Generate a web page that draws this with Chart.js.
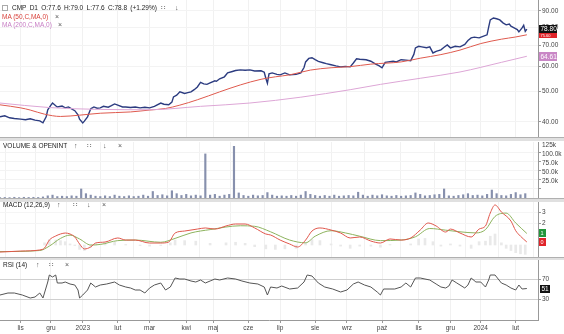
<!DOCTYPE html>
<html><head><meta charset="utf-8">
<script src="https://cdn.jsdelivr.net/npm/chart.js@4.4.1/dist/chart.umd.min.js"></script>
<style>
html,body{margin:0;padding:0;background:#fff;}
body{width:564px;height:334px;position:relative;overflow:hidden;font-family:"Liberation Sans",Arial,sans-serif;}
canvas{position:absolute;left:0;}
.sep{position:absolute;left:0;width:564px;height:3px;background:#e0e0e0;border-top:1px solid #b0b0b0;}
.t{position:absolute;font-size:6.5px;line-height:8px;white-space:nowrap;color:#222;}
.ic{position:absolute;font-size:7px;line-height:8px;white-space:nowrap;color:#555;}
</style></head><body>
<canvas id="cMain" width="564" height="137" style="top:0;width:564px;height:137px"></canvas>
<div class="sep" style="top:137px"></div>
<canvas id="cVol" width="564" height="56" style="top:142px;width:564px;height:56px"></canvas>
<div class="sep" style="top:198px"></div>
<canvas id="cMacd" width="564" height="55" style="top:202px;width:564px;height:55px"></canvas>
<div class="sep" style="top:257px;height:2px"></div>
<canvas id="cRsi" width="564" height="74" style="top:260px;width:564px;height:74px"></canvas>

<div style="position:absolute;left:2px;top:5px;width:4px;height:4px;border:1px solid #aaa;"></div>
<div class="t" style="left:12px;top:4px;word-spacing:1.5px;">CMP D1 O:77.6 H:79.0 L:77.6 C:78.8 (+1.29%)</div>
<div class="ic" style="left:161px;top:4px;">∷</div>
<div class="ic" style="left:175px;top:4px;">↓</div>
<div class="t" style="left:2px;top:13px;color:#d9423c;">MA (50,C,MA,0)</div>
<div class="ic" style="left:55px;top:13px;">×</div>
<div class="t" style="left:2px;top:21px;color:#c77dc4;">MA (200,C,MA,0)</div>
<div class="ic" style="left:58px;top:21px;">×</div>

<div class="t" style="left:3px;top:142px;">VOLUME &amp; OPENINT</div>
<div class="ic" style="left:74px;top:142px;">↑</div>
<div class="ic" style="left:87px;top:142px;">∷</div>
<div class="ic" style="left:103px;top:142px;">↓</div>
<div class="ic" style="left:118px;top:142px;">×</div>

<div class="t" style="left:3px;top:201px;">MACD (12,26,9)</div>
<div class="ic" style="left:57px;top:201px;">↑</div>
<div class="ic" style="left:73px;top:201px;">∷</div>
<div class="ic" style="left:87px;top:201px;">↓</div>
<div class="ic" style="left:102px;top:201px;">×</div>

<div class="t" style="left:3px;top:261px;">RSI (14)</div>
<div class="ic" style="left:36px;top:261px;">↑</div>
<div class="ic" style="left:49px;top:261px;">∷</div>
<div class="ic" style="left:65px;top:261px;">×</div>

<script>
// ---------- DATA (x = trading-day index) ----------
const dayMin = 0, dayMax = 338;
const monthTickDays   = [13, 32, 52, 74, 94, 117, 134, 156, 176, 198, 218, 240, 263, 283, 302, 324];
const monthTickLabels = ['lis','gru','2023','lut','mar','kwi','maj','cze','lip','sie','wrz','paź','lis','gru','2024','lut'];

const priceTicks = [40, 50, 60, 70, 80, 90];
const volumeTicks = [25000, 50000, 75000, 100000, 125000];
const volumeTickLabels = ['25.0k', '50.0k', '75.0k', '100.0k', '125k'];
const macdTicks = [2, 3];
const rsiTicks = [30, 70];

const priceClose = [[0,41.5],[3,41.8],[6,41.2],[9,41.0],[13,40.8],[16,40.6],[19,40.9],[22,40.5],[25,40.3],[27,39.7],
 [29,41.5],[30,43.7],[32,45.2],[33,45.9],[35,45.0],[36,44.6],[39,44.9],[41,44.3],[43,44.6],[45,44.0],
 [47,43.4],[49,42.1],[50,40.8],[52,39.7],[53,40.2],[55,41.5],[57,44.0],[59,44.6],[61,44.2],[63,44.3],
 [65,44.8],[68,44.5],[70,45.0],[72,45.6],[74,45.2],[77,44.6],[79,44.6],[82,44.4],[85,44.6],[88,44.3],
 [91,44.5],[94,44.3],[97,44.8],[101,45.9],[103,45.5],[106,45.3],[108,46.2],[109,48.0],[111,48.6],[113,49.8],
 [116,49.2],[118,49.5],[120,49.8],[122,50.6],[124,51.6],[126,53.4],[128,52.8],[130,52.6],[132,53.2],[135,54.0],
 [136,53.8],[138,54.8],[141,55.6],[143,57.2],[146,57.8],[148,58.2],[151,58.5],[154,58.3],[157,58.5],[160,58.0],
 [164,58.1],[166,57.5],[167,55.0],[168,53.0],[169,56.8],[171,57.2],[174,56.6],[176,56.4],[179,57.2],[182,56.4],
 [186,56.6],[189,57.2],[191,59.5],[192,62.0],[194,63.6],[196,63.9],[198,63.0],[200,62.2],[203,61.6],[205,61.2],
 [208,60.7],[211,60.2],[214,59.8],[217,60.0],[220,59.8],[222,61.5],[224,63.4],[226,63.2],[230,63.0],[233,62.3],
 [236,61.0],[238,60.3],[240,59.4],[242,61.8],[244,62.0],[247,62.3],[249,62.0],[252,63.0],[255,62.8],[258,62.5],
 [260,65.5],[261,68.7],[263,69.5],[265,69.2],[268,68.8],[270,69.2],[272,66.2],[274,67.0],[277,67.7],[279,69.0],
 [281,70.2],[283,68.7],[286,69.5],[289,69.2],[292,70.5],[294,72.5],[296,73.9],[298,74.3],[301,73.9],[303,74.6],
 [306,75.6],[307,80.0],[308,84.3],[310,85.5],[312,85.0],[314,84.3],[316,82.5],[318,81.3],[320,81.8],[321,80.5],
 [323,79.5],[325,78.5],[326,77.2],[328,79.5],[329,81.0],[330,77.5],[331,78.8]];

const ma50 = [[0,45.3],[13,44.3],[19,43.6],[28,42.3],[38,41.6],[50,42.0],[63,42.6],[82,43.0],[94,43.6],[104,44.1],
 [113,45.2],[124,47.0],[138,49.8],[151,52.4],[164,54.6],[173,55.6],[182,56.4],[195,58.4],[208,59.4],[220,59.9],
 [233,61.0],[252,62.0],[264,63.7],[277,65.4],[289,67.6],[302,70.9],[315,73.2],[324,74.4],[331,75.6]];

const ma200 = [[0,45.9],[31,44.4],[63,43.8],[94,43.7],[126,44.8],[157,45.9],[189,47.9],[220,50.6],[239,52.6],
 [264,55.0],[289,57.6],[315,61.8],[331,64.61]];

const volumeStartDay = 0, volumeStepDays = 3;
const volumeK = [1,1.5,1,2,1,2,1.5,2,1.5,3, 6,8,4,5,4,6,5,25,12,8, 5,4,6,4,8,5,4,6,4,5,
 8,5,18,7,9,6,20,12,7,10, 6,8,6,122,8,10,5,8,10,143, 14,7,5,8,6,7,15,8,5,6,
 5,7,5,8,18,10,7,5,7,5, 8,5,6,7,6,16,8,5,8,6, 9,6,5,7,5,6,7,14,10,6,
 7,9,10,25,6,5,7,9,12,7, 8,6,10,22,12,7,6,10,15,9, 12];

const macdLine = [[0,-0.64],[13,-0.55],[25,-0.45],[28,-0.27],[31,0.45],[35,0.82],[38,1.0],[41,1.09],[44,1.0],[47,0.73],
 [50,0.09],[53,-0.36],[57,-0.18],[60,0.18],[66,0.27],[74,0.64],[79,0.45],[85,0.45],[94,0.18],[101,0.18],
 [106,0.27],[110,1.09],[116,1.27],[124,1.45],[129,1.55],[135,1.45],[142,1.73],[148,1.91],[154,1.91],[160,1.55],
 [167,1.0],[170,0.91],[176,0.45],[182,0.09],[187,-0.18],[192,0.45],[196,1.27],[201,1.55],[208,1.36],[214,1.09],
 [220,0.64],[226,0.73],[233,0.36],[239,0.18],[245,0.55],[252,0.45],[258,0.64],[264,1.36],[269,2.0],[274,1.73],
 [280,1.18],[283,1.45],[289,1.09],[296,0.73],[301,1.45],[305,1.73],[308,2.91],[311,3.64],[315,3.0],[321,2.18],
 [324,1.3],[327,0.8],[331,0.27]];

const signalLine = [[0,-0.6],[25,-0.5],[31,-0.1],[38,0.6],[44,0.9],[50,0.55],[57,0.0],[63,0.05],[74,0.4],[85,0.45],
 [101,0.25],[110,0.6],[120,1.1],[132,1.4],[151,1.75],[160,1.7],[170,1.2],[182,0.45],[192,0.2],[198,0.8],
 [208,1.3],[217,1.1],[226,0.8],[239,0.4],[252,0.45],[261,0.75],[270,1.5],[280,1.35],[289,1.2],[299,1.1],
 [305,1.4],[311,2.6],[318,2.9],[324,2.0],[331,1.05]];

const macdHist = [[28,0.2],[31,0.5],[35,0.45],[38,0.4],[41,0.3],[44,0.1],[47,-0.05],[50,-0.4],[53,-0.5],[57,-0.2],
 [60,0.1],[66,0.2],[72,0.25],[79,0.05],[88,-0.05],[94,-0.1],[101,-0.05],[107,0.2],[110,0.45],[116,0.4],
 [123,0.35],[132,0.15],[142,0.2],[148,0.25],[154,0.15],[160,-0.15],[167,-0.35],[173,-0.4],[179,-0.35],[186,-0.3],
 [192,0.25],[196,0.5],[201,0.4],[208,0.1],[214,-0.1],[220,-0.3],[226,-0.1],[233,-0.1],[239,-0.2],[245,0.05],
 [258,0.1],[263,0.55],[267,0.6],[272,0.3],[277,-0.1],[283,0.1],[289,-0.1],[296,-0.3],[301,0.3],[305,0.35],
 [308,0.8],[311,1.0],[315,0.2],[318,-0.3],[321,-0.5],[324,-0.7],[327,-0.8],[330,-0.85]];

const rsi14 = [[0,38],[5,42],[9,42],[14,38],[19,32],[22,34],[25,42],[27,32],[30,64],[31,78],
 [33,74],[35,78],[36,62],[39,62],[41,64],[44,60],[47,58],[49,48],[50,32],[52,38],
 [55,48],[57,62],[60,54],[63,58],[67,60],[72,64],[75,58],[79,54],[82,52],[85,48],
 [88,48],[91,42],[94,52],[97,58],[101,62],[104,48],[107,54],[110,72],[113,70],[116,70],
 [120,66],[123,64],[126,68],[129,62],[132,66],[135,70],[138,68],[143,72],[148,70],[152,66],
 [157,62],[162,60],[166,54],[168,38],[170,54],[174,52],[177,56],[182,50],[187,52],[191,64],
 [193,78],[196,76],[200,62],[204,54],[209,50],[214,44],[218,48],[222,60],[225,64],[229,58],
 [233,54],[237,44],[239,38],[241,50],[245,50],[248,50],[252,54],[255,62],[258,54],[261,72],
 [264,72],[267,70],[270,68],[274,60],[277,54],[280,52],[282,56],[284,68],[287,62],[289,58],
 [292,52],[294,58],[296,72],[299,64],[302,64],[305,54],[307,68],[308,78],[311,78],[315,62],
 [318,58],[321,52],[324,48],[326,58],[328,50],[331,51]];

// ---------- helpers ----------
const FONT = '"Liberation Sans", Arial, sans-serif';
const pts = arr => arr.map(p => ({x: p[0], y: p[1]}));
const last = arr => arr[arr.length - 1][1];

function xAxis(showLabels) {
  return {
    type: 'linear', min: dayMin, max: dayMax, bounds: 'data', offset: false,
    afterBuildTicks: s => { s.ticks = monthTickDays.map(v => ({value: v})); },
    ticks: { display: showLabels, autoSkip: false, maxRotation: 0, padding: 1,
      font: {size: 6.5, family: FONT}, color: '#444',
      callback: v => { const i = monthTickDays.indexOf(v); return i >= 0 ? monthTickLabels[i] : ''; } },
    grid: { color: '#f1f1f1', drawTicks: showLabels, tickLength: 3, tickColor: '#999' },
    border: { display: showLabels, color: '#999' },
    afterFit: s => { s.height = showLabels ? 14 : 0; s.paddingLeft = 0; s.paddingRight = 0; }
  };
}
function yAxis(type, min, max, tickVals, fmt, gridColor, labelOffset) {
  return {
    type, position: 'right', min, max, bounds: 'data',
    afterBuildTicks: s => { s.ticks = tickVals.map(v => ({value: v})); },
    ticks: { autoSkip: false, padding: 1, font: {size: 6.5, family: FONT}, color: '#444',
      labelOffset: labelOffset || 0, callback: fmt },
    grid: { color: gridColor, tickLength: 3, tickColor: '#999' },
    border: { display: true, color: '#999' },
    afterFit: s => { s.width = 26; s.paddingTop = 0; s.paddingBottom = 0; }
  };
}
const common = {
  responsive: false, animation: false, events: [],
  layout: { padding: 0 },
  plugins: { legend: {display: false}, tooltip: {enabled: false} },
  elements: { point: {radius: 0} }
};
function box(ctx, x, yc, w, h, bg, txt, fg, fs) {
  ctx.save();
  ctx.fillStyle = bg;
  ctx.fillRect(x, Math.round(yc - h / 2), w, h);
  ctx.fillStyle = fg;
  ctx.font = fs + 'px ' + FONT;
  ctx.textAlign = 'left';
  ctx.textBaseline = 'middle';
  ctx.beginPath(); ctx.rect(x, Math.round(yc - h / 2), w, h); ctx.clip();
  ctx.fillText(txt, x + 1.5, Math.round(yc - h / 2) + h / 2 + 0.5);
  ctx.restore();
}

// ---------- main price panel ----------
new Chart(document.getElementById('cMain'), {
  type: 'line',
  data: { datasets: [
    { data: pts(ma200), borderColor: '#dda6d6', borderWidth: 1, cubicInterpolationMode: 'monotone' },
    { data: pts(ma50), borderColor: '#df5a4e', borderWidth: 1, cubicInterpolationMode: 'monotone' },
    { data: pts(priceClose), borderColor: '#2c3c80', borderWidth: 1.4, tension: 0 }
  ]},
  options: Object.assign({}, common, { scales: {
    x: xAxis(false),
    y: yAxis('logarithmic', 35.8, 97.5, priceTicks, v => Number(v).toFixed(2), '#f3f3f3')
  }}),
  plugins: [{ id: 'mainBoxes', afterDraw(chart) {
    const ctx = chart.ctx, y = chart.scales.y, x0 = chart.chartArea.right + 1;
    const pc = y.getPixelForValue(last(priceClose));
    box(ctx, x0, pc + 6, 18, 5, '#e0242a', last(ma50).toFixed(2), '#fff', 4);
    box(ctx, x0, pc, 18, 8, '#111', last(priceClose).toFixed(2), '#fff', 6.5);
    box(ctx, x0, y.getPixelForValue(last(ma200)), 18, 9, '#c987c6', last(ma200).toFixed(2), '#fff', 6.5);
  }}]
});

// ---------- volume panel ----------
new Chart(document.getElementById('cVol'), {
  type: 'bar',
  data: { datasets: [
    { data: volumeK.map((v, i) => ({x: volumeStartDay + i * volumeStepDays, y: v * 1000})),
      backgroundColor: '#8790ad', barThickness: 1.5, grouped: false }
  ]},
  options: Object.assign({}, common, { scales: {
    x: xAxis(false),
    y: yAxis('linear', 0, 155000, volumeTicks, v => volumeTickLabels[volumeTicks.indexOf(v)], '#f3f3f3', -7.5)
  }})
});

// ---------- MACD panel ----------
new Chart(document.getElementById('cMacd'), {
  data: { datasets: [
    { type: 'bar', data: pts(macdHist), backgroundColor: '#e9e9e9', barThickness: 2, grouped: false, order: 3 },
    { type: 'line', data: pts(signalLine), borderColor: '#8db35e', borderWidth: 1, cubicInterpolationMode: 'monotone', order: 2 },
    { type: 'line', data: pts(macdLine), borderColor: '#e0574c', borderWidth: 1, cubicInterpolationMode: 'monotone', order: 1 }
  ]},
  options: Object.assign({}, common, { scales: {
    x: xAxis(false),
    y: yAxis('linear', -1.09, 3.91, macdTicks, v => String(v), '#f5f5f5')
  }}),
  plugins: [{ id: 'macdBoxes', afterDraw(chart) {
    const ctx = chart.ctx, y = chart.scales.y, x0 = chart.chartArea.right + 1;
    box(ctx, x0, y.getPixelForValue(last(signalLine)), 7, 8, '#23963c', '1', '#fff', 5.5);
    box(ctx, x0, y.getPixelForValue(last(macdLine)), 7, 8, '#e0242a', '0', '#fff', 5.5);
  }}]
});

// ---------- RSI panel ----------
new Chart(document.getElementById('cRsi'), {
  type: 'line',
  data: { datasets: [
    { data: pts(rsi14), borderColor: '#555', borderWidth: 1, tension: 0 }
  ]},
  options: Object.assign({}, common, { scales: {
    x: xAxis(true),
    y: yAxis('linear', -12, 108, rsiTicks, v => String(v), '#cfcfcf')
  }}),
  plugins: [{ id: 'rsiBox', afterDraw(chart) {
    const ctx = chart.ctx, y = chart.scales.y, x0 = chart.chartArea.right + 2;
    box(ctx, x0, y.getPixelForValue(last(rsi14)), 10, 8, '#111', String(last(rsi14)), '#fff', 6.5);
  }}]
});
</script>
</body></html>
